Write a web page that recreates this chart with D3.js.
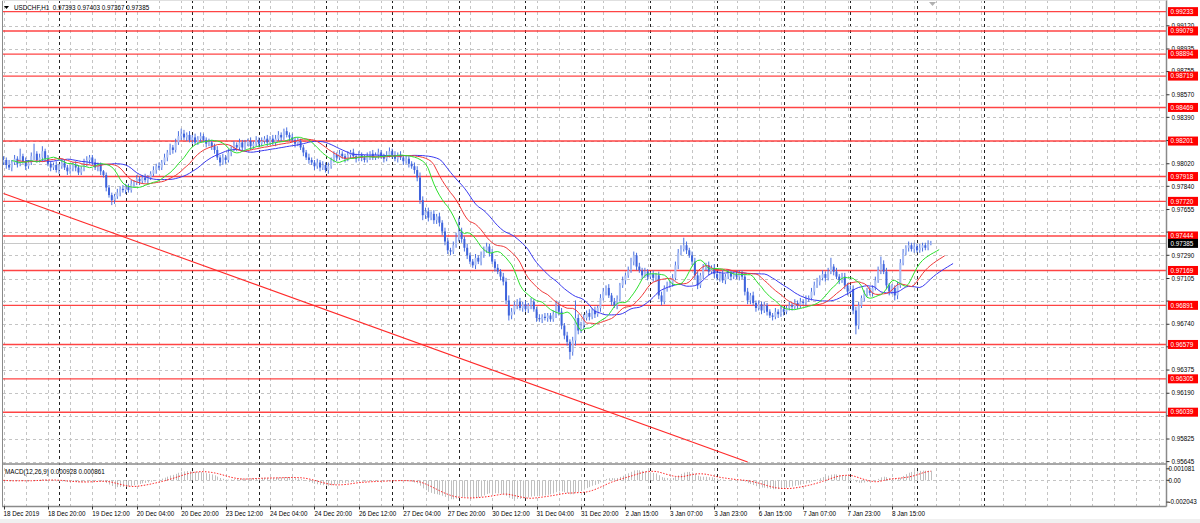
<!DOCTYPE html>
<html><head><meta charset="utf-8">
<script src="https://cdn.jsdelivr.net/npm/d3@7/dist/d3.min.js"></script>
<style>
html,body{margin:0;padding:0;background:#fff;}
svg{display:block;font-family:"Liberation Sans",Arial,sans-serif;}
text{white-space:pre;}
</style></head><body>
<svg id="c" width="1200" height="523"></svg>
<script>
// ---------------- DATA ----------------
const symbolTitle = "USDCHF,H1";
const headerValues = ["0.97393", "0.97403", "0.97367", "0.97385"];
const firstOpen = 0.9803;
// hourly closes, 18 Dec 2019 04:00 onward
const close = [
.9805,.9801,.9799,.9803,.9806,.9802,.9808,.9804,.9800,.9803,.9808,.9810,.9805,.9807,.9812,.9806,
.9802,.9799,.9801,.9797,.9800,.9803,.9799,.9796,.9798,.9801,.9799,.9795,.9798,.9802,.9805,.9807,.9803,.9799,.9801,.9796,
.9793,.9783,.9777,.9773,.9776,.9779,.9782,.9781,.9784,.9781,.9786,.9787,.9790,.9788,.9791,.9789,.9791,.9794,.9797,.9800,.9799,.9803,.9807,.9811,
.9815,.9813,.9819,.9824,.9826,.9823,.9825,.9821,.9823,.9819,.9822,.9824,.9821,.9818,.9819,.9816,.9813,.9807,.9803,.9807,
.9805,.9811,.9814,.9817,.9815,.9819,.9815,.9818,.9820,.9816,.9818,.9821,.9818,.9820,.9822,.9819,.9822,.9819,.9822,.9825,
.9823,.9828,.9825,.9823,.9821,.9818,.9820,.9815,.9811,.9807,.9805,.9803,.9800,.9803,.9799,.9801,.9797,.9800,.9805,.9809,
.9807,.9810,.9808,.9806,.9809,.9811,.9808,.9806,.9809,.9807,.9805,.9808,.9810,.9807,.9809,.9811,.9808,.9806,.9809,.9812,
.9809,.9806,.9809,.9807,.9804,.9806,.9802,.9800,.9797,.9791,.9773,.9761,.9764,.9759,.9762,.9757,.9760,.9755,.9748,.9740,
.9733,.9732,.9737,.9743,.9748,.9742,.9735,.9729,.9724,.9721,.9727,.9724,.9729,.9733,.9736,.9731,.9724,.9719,.9716,.9712,
.9708,.9693,.9681,.9684,.9689,.9692,.9687,.9690,.9686,.9689,.9692,.9686,.9679,.9678,.9680,.9679,.9681,.9678,.9682,.9689,
.9684,.9673,.9665,.9660,.9652,.9661,.9679,.9669,.9673,.9679,.9683,.9680,.9685,.9682,.9687,.9695,.9700,.9703,.9697,.9692,
.9689,.9694,.9705,.9709,.9713,.9717,.9724,.9729,.9720,.9717,.9713,.9716,.9712,.9714,.9711,.9713,.9697,.9692,.9703,.9705,
.9707,.9711,.9721,.9731,.9734,.9737,.9733,.9729,.9724,.9713,.9705,.9713,.9719,.9721,.9716,.9719,.9714,.9711,.9714,.9709,
.9712,.9715,.9712,.9714,.9712,.9715,.9712,.9700,.9693,.9697,.9691,.9687,.9690,.9685,.9689,.9684,.9681,.9680,.9684,.9682,
.9686,.9684,.9687,.9689,.9688,.9691,.9689,.9692,.9691,.9694,.9695,.9700,.9705,.9708,.9711,.9714,.9711,.9716,.9720,.9716,
.9712,.9709,.9712,.9705,.9700,.9702,.9685,.9673,.9689,.9695,.9698,.9701,.9699,.9703,.9709,.9717,.9722,.9716,.9705,.9700,
.9703,.9697,.9705,.9723,.9731,.9735,.9737,.9734,.9736,.9733,.9735,.9737,.9735,.9738,.97385
];
// upper / lower shadow lengths in pips (0.0001)
const upWick = [
3,2,4,2,3,2,6,2,3,2,3,8,2,3,4,2,3,2,2,3,
2,3,2,2,3,2,3,2,2,4,3,2,2,3,2,2,1,2,2,2,
2,3,2,3,2,2,3,2,3,2,2,3,2,2,3,2,3,2,3,2,
3,2,3,4,4,3,2,3,2,3,2,3,2,2,3,2,2,3,2,3,
2,3,2,3,2,3,2,3,2,3,2,3,2,3,2,3,2,3,3,3,
2,2,3,2,3,2,3,2,2,2,3,2,2,3,2,3,2,3,2,3,
2,3,2,2,3,2,3,2,3,2,2,3,2,3,2,3,2,2,3,3,
2,3,2,3,2,3,2,2,3,3,4,3,3,3,2,3,2,3,2,3,
3,2,3,4,11,3,2,3,2,2,3,2,3,3,3,2,3,2,3,2,
3,3,4,3,3,2,3,2,3,2,3,2,2,3,2,3,2,2,3,4,
3,3,2,3,2,3,14,3,3,3,2,3,2,3,2,3,3,2,3,2,
3,3,2,3,2,3,3,3,2,3,2,3,2,2,3,2,3,3,2,3,
2,3,3,3,3,6,3,2,3,3,3,2,3,2,3,2,3,2,2,3,
2,3,2,2,3,2,2,3,3,2,3,2,3,2,3,2,2,2,3,2,
3,2,2,3,2,3,2,3,2,3,2,3,3,3,2,3,2,3,7,2,
3,2,3,3,2,3,3,3,3,2,3,2,3,2,3,3,6,3,3,2,
3,2,3,3,3,2,3,2,3,2,3,2,2,3,2
];
const dnWick = [
2,3,2,3,2,3,2,2,3,2,2,3,2,2,3,2,2,3,2,2,
3,2,2,3,2,2,3,2,2,2,2,3,2,2,3,3,2,3,2,4,
3,2,3,2,3,2,2,3,2,3,2,2,3,2,2,3,2,2,2,3,
2,3,2,2,3,2,3,2,3,2,2,3,2,3,2,3,3,2,3,2,
3,2,3,2,3,2,3,2,2,3,2,2,3,2,2,3,2,2,3,2,
3,2,2,3,2,3,2,2,3,2,3,2,3,2,3,2,2,3,2,2,
3,2,2,3,2,3,2,3,2,3,2,2,3,2,2,3,2,3,2,2,
3,2,3,2,3,2,3,2,3,3,3,4,3,3,2,3,3,3,3,3,
3,3,2,2,3,3,3,3,2,2,3,2,3,2,2,3,2,3,2,3,
3,3,4,3,2,3,2,3,2,3,3,2,3,2,3,2,3,2,2,3,
3,3,3,3,6,3,4,3,2,3,2,3,2,3,2,3,2,3,2,3,
2,3,2,2,3,2,2,3,3,2,3,2,3,2,3,3,3,3,2,3,
2,3,2,3,2,2,3,2,3,3,3,2,3,2,3,2,3,2,3,2,
3,2,3,2,2,3,2,3,3,3,2,3,2,3,2,3,2,3,2,3,
2,3,2,2,3,2,3,2,2,3,2,2,3,2,3,2,3,2,2,3,
2,3,2,3,3,2,3,7,3,2,3,2,2,3,2,2,3,2,3,3,
2,4,3,2,2,2,3,2,3,2,2,3,2,2,1
];
const levelPrices = [0.99233,0.99079,0.98894,0.98719,0.98469,0.98201,0.97918,0.97720,0.97444,0.97169,0.96891,0.96579,0.96305,0.96039];
const levelText   = ["0.99233","0.99079","0.98894","0.98719","0.98469","0.98201","0.97918","0.97720","0.97444","0.97169","0.96891","0.96579","0.96305","0.96039"];
const priceTicks = [0.95645,0.95825,0.96010,0.96190,0.96375,0.96560,0.96740,0.96925,0.97105,0.97290,0.97475,0.97655,0.97840,0.98020,0.98205,0.98390,0.98570,0.98755,0.98935,0.99120];
const priceTickText = ["0.95645","0.95825","0.96010","0.96190","0.96375","0.96560","0.96740","0.96925","0.97105","0.97290","0.97475","0.97655","0.97840","0.98020","0.98205","0.98390","0.98570","0.98755","0.98935","0.99120"];
const timeLabels = ["18 Dec 2019","18 Dec 20:00","19 Dec 12:00","20 Dec 04:00","20 Dec 20:00","23 Dec 12:00","24 Dec 04:00","24 Dec 20:00","26 Dec 12:00","27 Dec 04:00","27 Dec 20:00","30 Dec 12:00","31 Dec 04:00","31 Dec 20:00","2 Jan 15:00","3 Jan 07:00","3 Jan 23:00","6 Jan 15:00","7 Jan 07:00","7 Jan 23:00","8 Jan 15:00"];
const timeLabelStep = 16;
const daySeparators = [20,44,68,92,116,140,164,188,209,233,257,281,305,329,353];
const trendPoints = [[0,0.97783],[268,0.95641]];
const bidPrice = 0.97385, bidText = "0.97385";
const macdTitle = "MACD(12,26,9) 0.000928 0.000861";
const macdTicks = [0.001081, 0, -0.002043];
const macdTickText = ["0.001081","0.00","-0.002043"];
const alligator = [ {n:13, shift:8, color:"#3a3af0"}, {n:8, shift:5, color:"#f03a3a"}, {n:5, shift:3, color:"#2ee02e"} ];

// ---------------- LAYOUT ----------------
const L = 3, R = 1166.5, mainBot = 464, macdTop = 465, macdBot = 506.5;
const svg = d3.select("#c");
const x = d3.scaleLinear().domain([0, 320]).range([3.5, 892]);
const y = d3.scaleLinear().domain([0.95645, 0.99120]).range([461.6, 25.8]);
const ym = d3.scaleLinear().domain([-0.002043, 0.001081]).range([502.1, 468.8]);
const FS = 6.3;

svg.append("rect").attr("width",1200).attr("height",523).attr("fill","#fff");
svg.append("rect").attr("x",0).attr("y",519).attr("width",1200).attr("height",4).attr("fill","#f0f0f0");

const defs = svg.append("defs");
defs.append("clipPath").attr("id","cm").append("rect").attr("x",L).attr("y",0).attr("width",R-L).attr("height",mainBot);
defs.append("clipPath").attr("id","cd").append("rect").attr("x",L).attr("y",macdTop).attr("width",R-L).attr("height",macdBot-macdTop);

// vertical grid
const gGrid = svg.append("g");
for (let k = 0; x(k*8) < R; k++) {
  const i = k*8;
  if (daySeparators.includes(i)) continue;
  gGrid.append("line").attr("x1",Math.round(x(i))+0.5).attr("x2",Math.round(x(i))+0.5).attr("y1",0).attr("y2",macdBot)
    .attr("stroke","#c4c4c4").attr("stroke-dasharray","3,3");
}
daySeparators.forEach(i => {
  if (x(i) > R) return;
  gGrid.append("line").attr("x1",Math.round(x(i))+0.5).attr("x2",Math.round(x(i))+0.5).attr("y1",0).attr("y2",macdBot)
    .attr("stroke","#222").attr("stroke-dasharray","3,3");
});
// horizontal grid
priceTicks.forEach(p => {
  gGrid.append("line").attr("x1",L).attr("x2",R).attr("y1",Math.round(y(p))+0.5).attr("y2",Math.round(y(p))+0.5)
    .attr("stroke","#c4c4c4").attr("stroke-dasharray","3,3");
});
gGrid.append("line").attr("x1",L).attr("x2",R).attr("y1",Math.round(ym(0))+0.5).attr("y2",Math.round(ym(0))+0.5)
  .attr("stroke","#c4c4c4").attr("stroke-dasharray","3,3");

// main panel
const gMain = svg.append("g").attr("clip-path","url(#cm)");
levelPrices.forEach(p => {
  gMain.append("line").attr("x1",L).attr("x2",R).attr("y1",y(p)).attr("y2",y(p))
    .attr("stroke","#ff3030").attr("stroke-width",1.4).attr("opacity",0.9);
});
gMain.append("line").attr("x1",L).attr("x2",R).attr("y1",Math.round(y(bidPrice))+0.5).attr("y2",Math.round(y(bidPrice))+0.5)
  .attr("stroke","#c8c8c8").attr("stroke-width",1);
gMain.append("line").attr("x1",x(trendPoints[0][0])).attr("y1",y(trendPoints[0][1]))
  .attr("x2",x(trendPoints[1][0])).attr("y2",y(trendPoints[1][1]))
  .attr("stroke","#ff2a2a").attr("stroke-width",1.1);

// candles
const bars = close.map((c,i) => {
  const o = i === 0 ? firstOpen : close[i-1];
  const h = Math.max(o,c) + upWick[i]*0.0001;
  const l = Math.min(o,c) - dnWick[i]*0.0001;
  return {i,o,h,l,c};
});
const gC = gMain.append("g");
bars.forEach(b => {
  const cx = x(b.i);
  gC.append("line").attr("x1",cx).attr("x2",cx).attr("y1",y(b.h)).attr("y2",y(b.l))
    .attr("stroke","#4a70e0").attr("stroke-width",1);
  const top = y(Math.max(b.o,b.c)), bot = y(Math.min(b.o,b.c));
  gC.append("rect").attr("x",cx-1).attr("y",top).attr("width",2).attr("height",Math.max(0.8,bot-top))
    .attr("fill", b.c >= b.o ? "#a9bdf3" : "#3e63dc");
});

// alligator (SMMA of median price, shifted)
const median = bars.map(b => (b.h+b.l)/2);
alligator.forEach(a => {
  const s = [];
  median.forEach((m,i) => { s.push(i===0 ? m : (s[i-1]*(a.n-1)+m)/a.n); });
  const line = d3.line().x((v,i) => x(i + a.shift)).y(v => y(v));
  gMain.append("path").attr("d", line(s)).attr("fill","none").attr("stroke",a.color).attr("stroke-width",1);
});

// MACD
const ema = (arr,n) => { const k = 2/(n+1); const out=[]; arr.forEach((v,i)=>out.push(i===0?v:out[i-1]+k*(v-out[i-1]))); return out; };
const e12 = ema(close,12), e26 = ema(close,26);
const macd = e12.map((v,i) => v - e26[i]);
const signal = macd.map((v,i) => d3.mean(macd.slice(Math.max(0,i-8), i+1)));
const gD = svg.append("g").attr("clip-path","url(#cd)");
macd.forEach((v,i) => {
  gD.append("line").attr("x1",Math.round(x(i))+0.5).attr("x2",Math.round(x(i))+0.5).attr("y1",ym(0)).attr("y2",ym(v))
    .attr("stroke","#c0c0c0").attr("stroke-width",1);
});
gD.append("path").attr("d", d3.line().x((v,i)=>x(i)).y(v=>ym(v))(signal))
  .attr("fill","none").attr("stroke","#ff2020").attr("stroke-width",1).attr("stroke-dasharray","1.5,1.5");

// frames
const frame = svg.append("g").attr("stroke","#8a8a8a");
frame.append("line").attr("x1",2.5).attr("x2",2.5).attr("y1",0).attr("y2",macdBot);
frame.append("line").attr("x1",R).attr("x2",R).attr("y1",0).attr("y2",macdBot).attr("stroke-width",1.5);
frame.append("line").attr("x1",2).attr("x2",R).attr("y1",mainBot).attr("y2",mainBot).attr("stroke-width",1.5);
frame.append("line").attr("x1",2).attr("x2",R).attr("y1",macdBot).attr("y2",macdBot).attr("stroke-width",1.5);
frame.append("line").attr("x1",2).attr("x2",R).attr("y1",0.5).attr("y2",0.5).attr("stroke","#e0e0e0");

// right price axis
const gAx = svg.append("g").attr("font-size",FS).attr("fill","#000");
const labelYs = levelPrices.concat([bidPrice]).map(p => y(p));
priceTicks.forEach((p,k) => {
  const yy = y(p);
  gAx.append("line").attr("x1",R).attr("x2",R+3).attr("y1",yy).attr("y2",yy).attr("stroke","#000").attr("stroke-width",0.8);
  // tick texts that sit under a price label are covered in the terminal
  const near = labelYs.filter(v => Math.abs(v - yy) < 5.3);
  if (near.some(v => Math.abs(v - yy) < 4.45)) return;
  let ty = yy;
  near.forEach(v => { ty = v > yy ? Math.min(ty, v - 5.3) : Math.max(ty, v + 5.3); });
  gAx.append("text").attr("x",R+5).attr("y",ty+2.2).text(priceTickText[k]);
});
macdTicks.forEach((p,k) => {
  const yy = ym(p);
  gAx.append("line").attr("x1",R).attr("x2",R+3).attr("y1",yy).attr("y2",yy).attr("stroke","#000").attr("stroke-width",0.8);
  gAx.append("text").attr("x",R+2).attr("y",yy+2.2).text(macdTickText[k]);
});
levelPrices.forEach((p,k) => {
  const yy = y(p);
  gAx.append("rect").attr("x",R+1.5).attr("y",yy-4.5).attr("width",30).attr("height",9).attr("fill","#ff0000");
  gAx.append("text").attr("x",R+4).attr("y",yy+2.2).attr("fill","#fff").text(levelText[k]);
});
gAx.append("rect").attr("x",R+1.5).attr("y",y(bidPrice)-4.5).attr("width",30).attr("height",9).attr("fill","#000");
gAx.append("text").attr("x",R+4).attr("y",y(bidPrice)+2.2).attr("fill","#fff").text(bidText);

// time axis
timeLabels.forEach((t,k) => {
  const xx = x(k*timeLabelStep);
  gAx.append("line").attr("x1",Math.round(xx)+0.5).attr("x2",Math.round(xx)+0.5).attr("y1",macdBot).attr("y2",macdBot+3).attr("stroke","#000").attr("stroke-width",0.8);
  gAx.append("text").attr("x",xx).attr("y",515.5).text(t);
});

// headers
svg.append("path").attr("d","M4,6 L9,6 L6.5,9 Z").attr("fill","#000");
svg.append("text").attr("x",14).attr("y",10).attr("font-size",FS).attr("fill","#000")
  .text(symbolTitle + "  " + headerValues.join(" "));
svg.append("text").attr("x",5).attr("y",473.5).attr("font-size",FS).attr("fill","#000").text(macdTitle);
svg.append("path").attr("d","M929,2 L936,2 L932.5,6 Z").attr("fill","#b0b0b0");
</script>
</body></html>
